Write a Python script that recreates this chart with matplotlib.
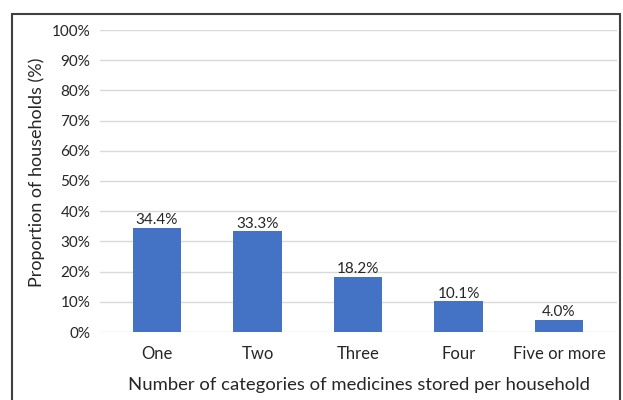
import matplotlib
matplotlib.use("Agg")
import matplotlib.pyplot as plt
from matplotlib.patches import Rectangle

categories = ["One", "Two", "Three", "Four", "Five or more"]
values = [34.4, 33.3, 18.2, 10.1, 4.0]
yticks = [0, 10, 20, 30, 40, 50, 60, 70, 80, 90, 100]

plt.rcParams['font.family'] = ['Lato', 'DejaVu Sans']
txt = "#262626"

fig = plt.figure(figsize=(6.23, 4.0), dpi=100)
ax = fig.add_axes([100/623, 1-332/400, (617-100)/623, (332-30)/400])

x = list(range(len(categories)))
ax.bar(x, values, width=0.48, color="#4472C4", zorder=3)
for xi, v in zip(x, values):
    ax.text(xi, v + 0.3, f"{v:.1f}%", ha="center", va="bottom", fontsize=11, color=txt)

ax.set_xlim(-0.567, 4.577)
ax.set_ylim(0, 100)
ax.set_yticks(yticks)
ax.set_yticklabels([f"{t}%" for t in yticks])
ax.set_xticks(x)
ax.set_xticklabels(categories)
ax.yaxis.grid(True, color="#d9d9d9", linewidth=1, zorder=0)
for s in ax.spines.values():
    s.set_visible(False)
ax.tick_params(axis="y", length=0, labelsize=11, colors=txt, pad=7)
ax.tick_params(axis="x", length=0, labelsize=12, colors=txt, pad=10)
ax.set_xlabel("Number of categories of medicines stored per household", fontsize=13.3, color=txt, labelpad=11)
ax.set_ylabel("Proportion of households (%)", fontsize=13, color=txt, va="center")
ax.yaxis.set_label_coords(-0.122, 0.53)

fig.patches.append(Rectangle((12/623, -0.1), (620-12)/623, 1.1 - 14/400, transform=fig.transFigure,
                             fill=False, edgecolor="#404040", linewidth=1.5))

fig.savefig("out.png", dpi=100)
